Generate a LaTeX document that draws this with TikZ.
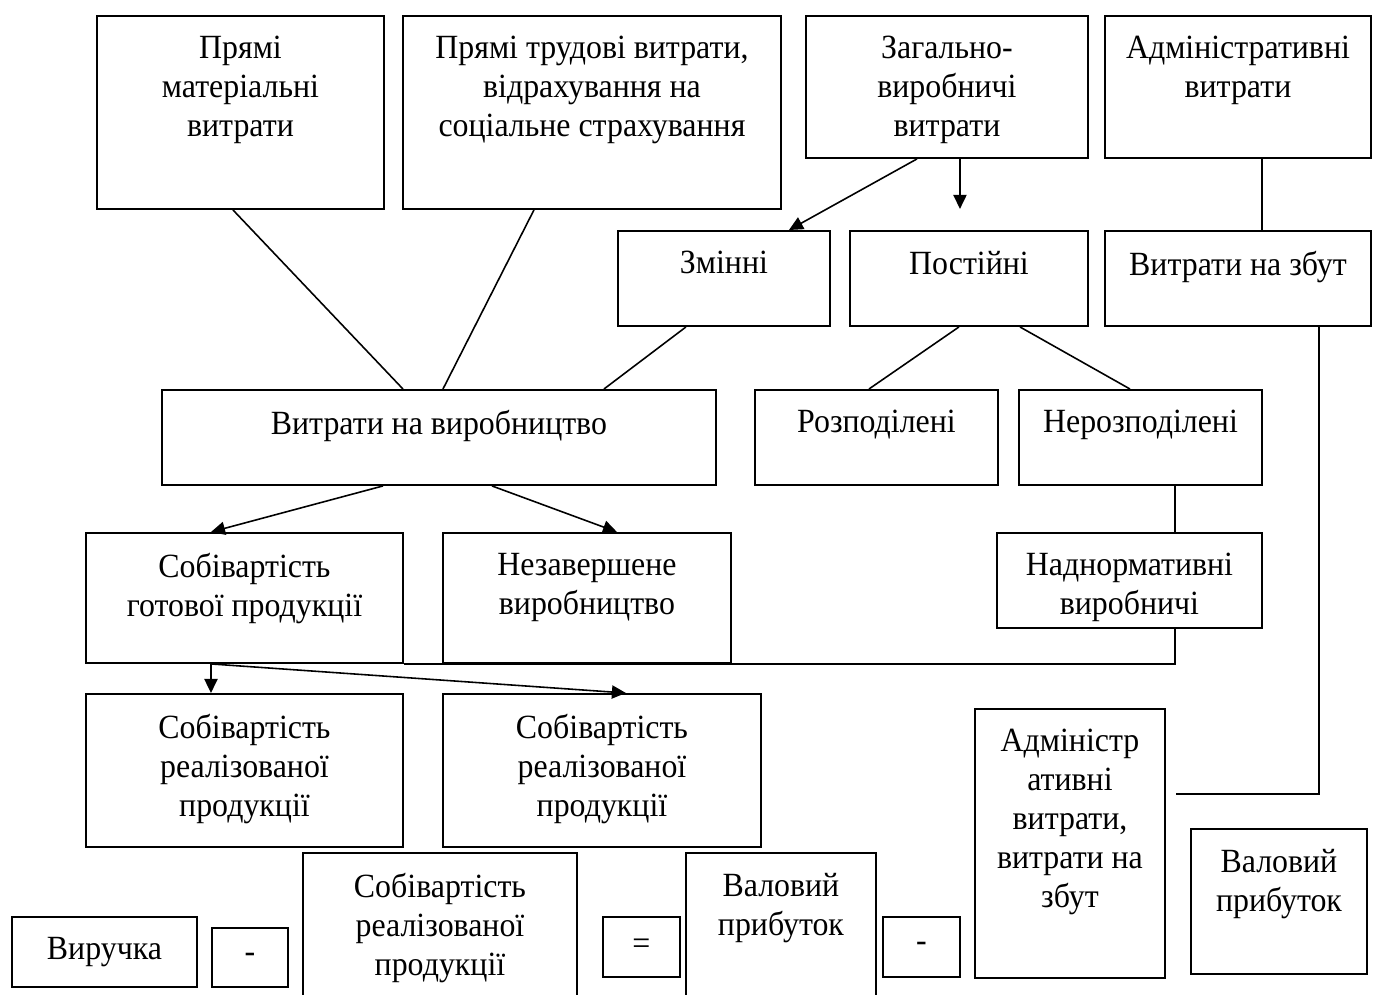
\documentclass[tikz,border=0pt]{standalone}
\usepackage{fontspec}
\setmainfont{Liberation Serif}[FakeStretch=0.94]
\usepackage{tikz}
\usetikzlibrary{arrows.meta, positioning, calc}
\newcommand{\boxfont}{\fontsize{19.3}{22.2}\selectfont}

\begin{document}
\begin{tikzpicture}[
  cell/.style={draw, line width=1.1pt, anchor=north west, inner sep=0pt,
    font=\boxfont},
  lbl/.style={anchor=north, yshift=-0.41cm, align=center, inner sep=0pt,
    font=\boxfont},
  txt/.style={label={[lbl]north:#1}},
  link/.style={line width=0.9pt},
  arr/.style={-{Triangle[length=8pt, width=7.5pt]}, line width=0.9pt}
]
  \useasboundingbox (0,0) rectangle (27.68,-19.88);

  % Top row: cost items
  \node[cell, minimum width=5.74cm, minimum height=3.86cm,
    txt={Прямі\\матеріальні\\витрати}] (pmv) at (1.92,-0.30) {};
  \node[cell, minimum width=7.56cm, minimum height=3.86cm,
    txt={Прямі трудові витрати,\\відрахування на\\соціальне страхування}] (ptv) at (8.04,-0.30) {};
  \node[cell, minimum width=5.64cm, minimum height=2.84cm,
    txt={Загально-\\виробничі\\витрати}] (zvv) at (16.10,-0.30) {};
  \node[cell, minimum width=5.32cm, minimum height=2.84cm,
    txt={Адміністративні\\витрати}] (adm) at (22.08,-0.30) {};

  % Second row
  \node[cell, minimum width=4.24cm, minimum height=1.90cm,
    txt={Змінні}] (zmin) at (12.34,-4.60) {};
  \node[cell, minimum width=4.76cm, minimum height=1.90cm,
    txt={Постійні}] (post) at (16.98,-4.60) {};
  \node[cell, minimum width=5.32cm, minimum height=1.90cm,
    txt={Витрати на збут}] (zbut) at (22.08,-4.60) {};

  % Third row
  \node[cell, minimum width=11.08cm, minimum height=1.90cm,
    txt={Витрати на виробництво}] (vyr) at (3.22,-7.78) {};
  \node[cell, minimum width=4.86cm, minimum height=1.90cm,
    txt={Розподілені}] (rozp) at (15.08,-7.78) {};
  \node[cell, minimum width=4.86cm, minimum height=1.90cm,
    txt={Нерозподілені}] (nerozp) at (20.36,-7.78) {};

  % Fourth row
  \node[cell, minimum width=6.34cm, minimum height=2.60cm,
    txt={Собівартість\\готової продукції}] (gotov) at (1.70,-10.64) {};
  \node[cell, minimum width=5.76cm, minimum height=2.60cm,
    txt={Незавершене\\виробництво}] (nezav) at (8.84,-10.64) {};
  \node[cell, minimum width=5.30cm, minimum height=1.90cm,
    txt={Наднормативні\\виробничі}] (nadn) at (19.92,-10.64) {};

  % Fifth row
  \node[cell, minimum width=6.34cm, minimum height=3.06cm,
    txt={Собівартість\\реалізованої\\продукції}] (real1) at (1.70,-13.86) {};
  \node[cell, minimum width=6.36cm, minimum height=3.06cm,
    txt={Собівартість\\реалізованої\\продукції}] (real2) at (8.84,-13.86) {};
  \node[cell, minimum width=3.80cm, minimum height=5.38cm,
    txt={Адміністр\\ативні\\витрати,\\витрати на\\збут}] (admzb) at (19.48,-14.16) {};
  \node[cell, minimum width=3.52cm, minimum height=2.90cm,
    txt={Валовий\\прибуток}] (valr) at (23.80,-16.56) {};

  % Bottom formula
  \node[cell, minimum width=3.70cm, minimum height=1.40cm] (vyruch) at (0.22,-18.32) {Виручка};
  \node[cell, minimum width=1.52cm, minimum height=1.18cm] (minus1) at (4.22,-18.54) {-};
  \node[cell, minimum width=5.48cm, minimum height=3.00cm,
    txt={Собівартість\\реалізованої\\продукції}] (real3) at (6.04,-17.04) {};
  \node[cell, minimum width=1.54cm, minimum height=1.20cm] (eq) at (12.04,-18.32) {=};
  \node[cell, minimum width=3.80cm, minimum height=3.00cm,
    txt={Валовий\\прибуток}] (valm) at (13.70,-17.04) {};
  \node[cell, minimum width=1.54cm, minimum height=1.20cm] (minus2) at (17.64,-18.32) {-};

  % Free ends
  \coordinate (ztip) at ([xshift=0.26cm, yshift=-1cm]zvv.south);
  \coordinate (zend) at ([xshift=0.2cm, yshift=0.99cm]admzb.east);

  % Connectors
  \draw[link] ([xshift=-0.15cm]pmv.south) -- ([xshift=-0.72cm]vyr.north);
  \draw[link] ([xshift=-1.16cm]ptv.south) -- ([xshift=0.08cm]vyr.north);
  \draw[link] ([xshift=-0.76cm]zmin.south) -- ([xshift=3.30cm]vyr.north);
  \draw[arr] ([xshift=-0.60cm]zvv.south) -- ([xshift=1.30cm]zmin.north);
  \draw[arr] ([xshift=0.26cm]zvv.south) -- (ztip);
  \draw[link] ([xshift=0.48cm]adm.south) -- ([xshift=0.48cm]zbut.north);
  \draw[link] ([xshift=-0.20cm]post.south) -- ([xshift=-0.15cm]rozp.north);
  \draw[link] ([xshift=1.02cm]post.south) -- ([xshift=-0.21cm]nerozp.north);
  \draw[link] ([xshift=0.69cm]nerozp.south) -- ([xshift=0.91cm]nadn.north);
  \draw[link] ([xshift=0.91cm]nadn.south) |- (gotov.south east);
  \draw[link] ([xshift=1.62cm]zbut.south) |- (zend);
  \draw[arr] ([xshift=-1.12cm]vyr.south) -- ([xshift=-0.67cm]gotov.north);
  \draw[arr] ([xshift=1.06cm]vyr.south) -- ([xshift=0.60cm]nezav.north);
  \draw[arr] ([xshift=-0.67cm]gotov.south) -- ([xshift=-0.67cm]real1.north);
  \draw[arr] ([xshift=-0.67cm]gotov.south) -- ([xshift=0.48cm]real2.north);
\end{tikzpicture}
\end{document}
